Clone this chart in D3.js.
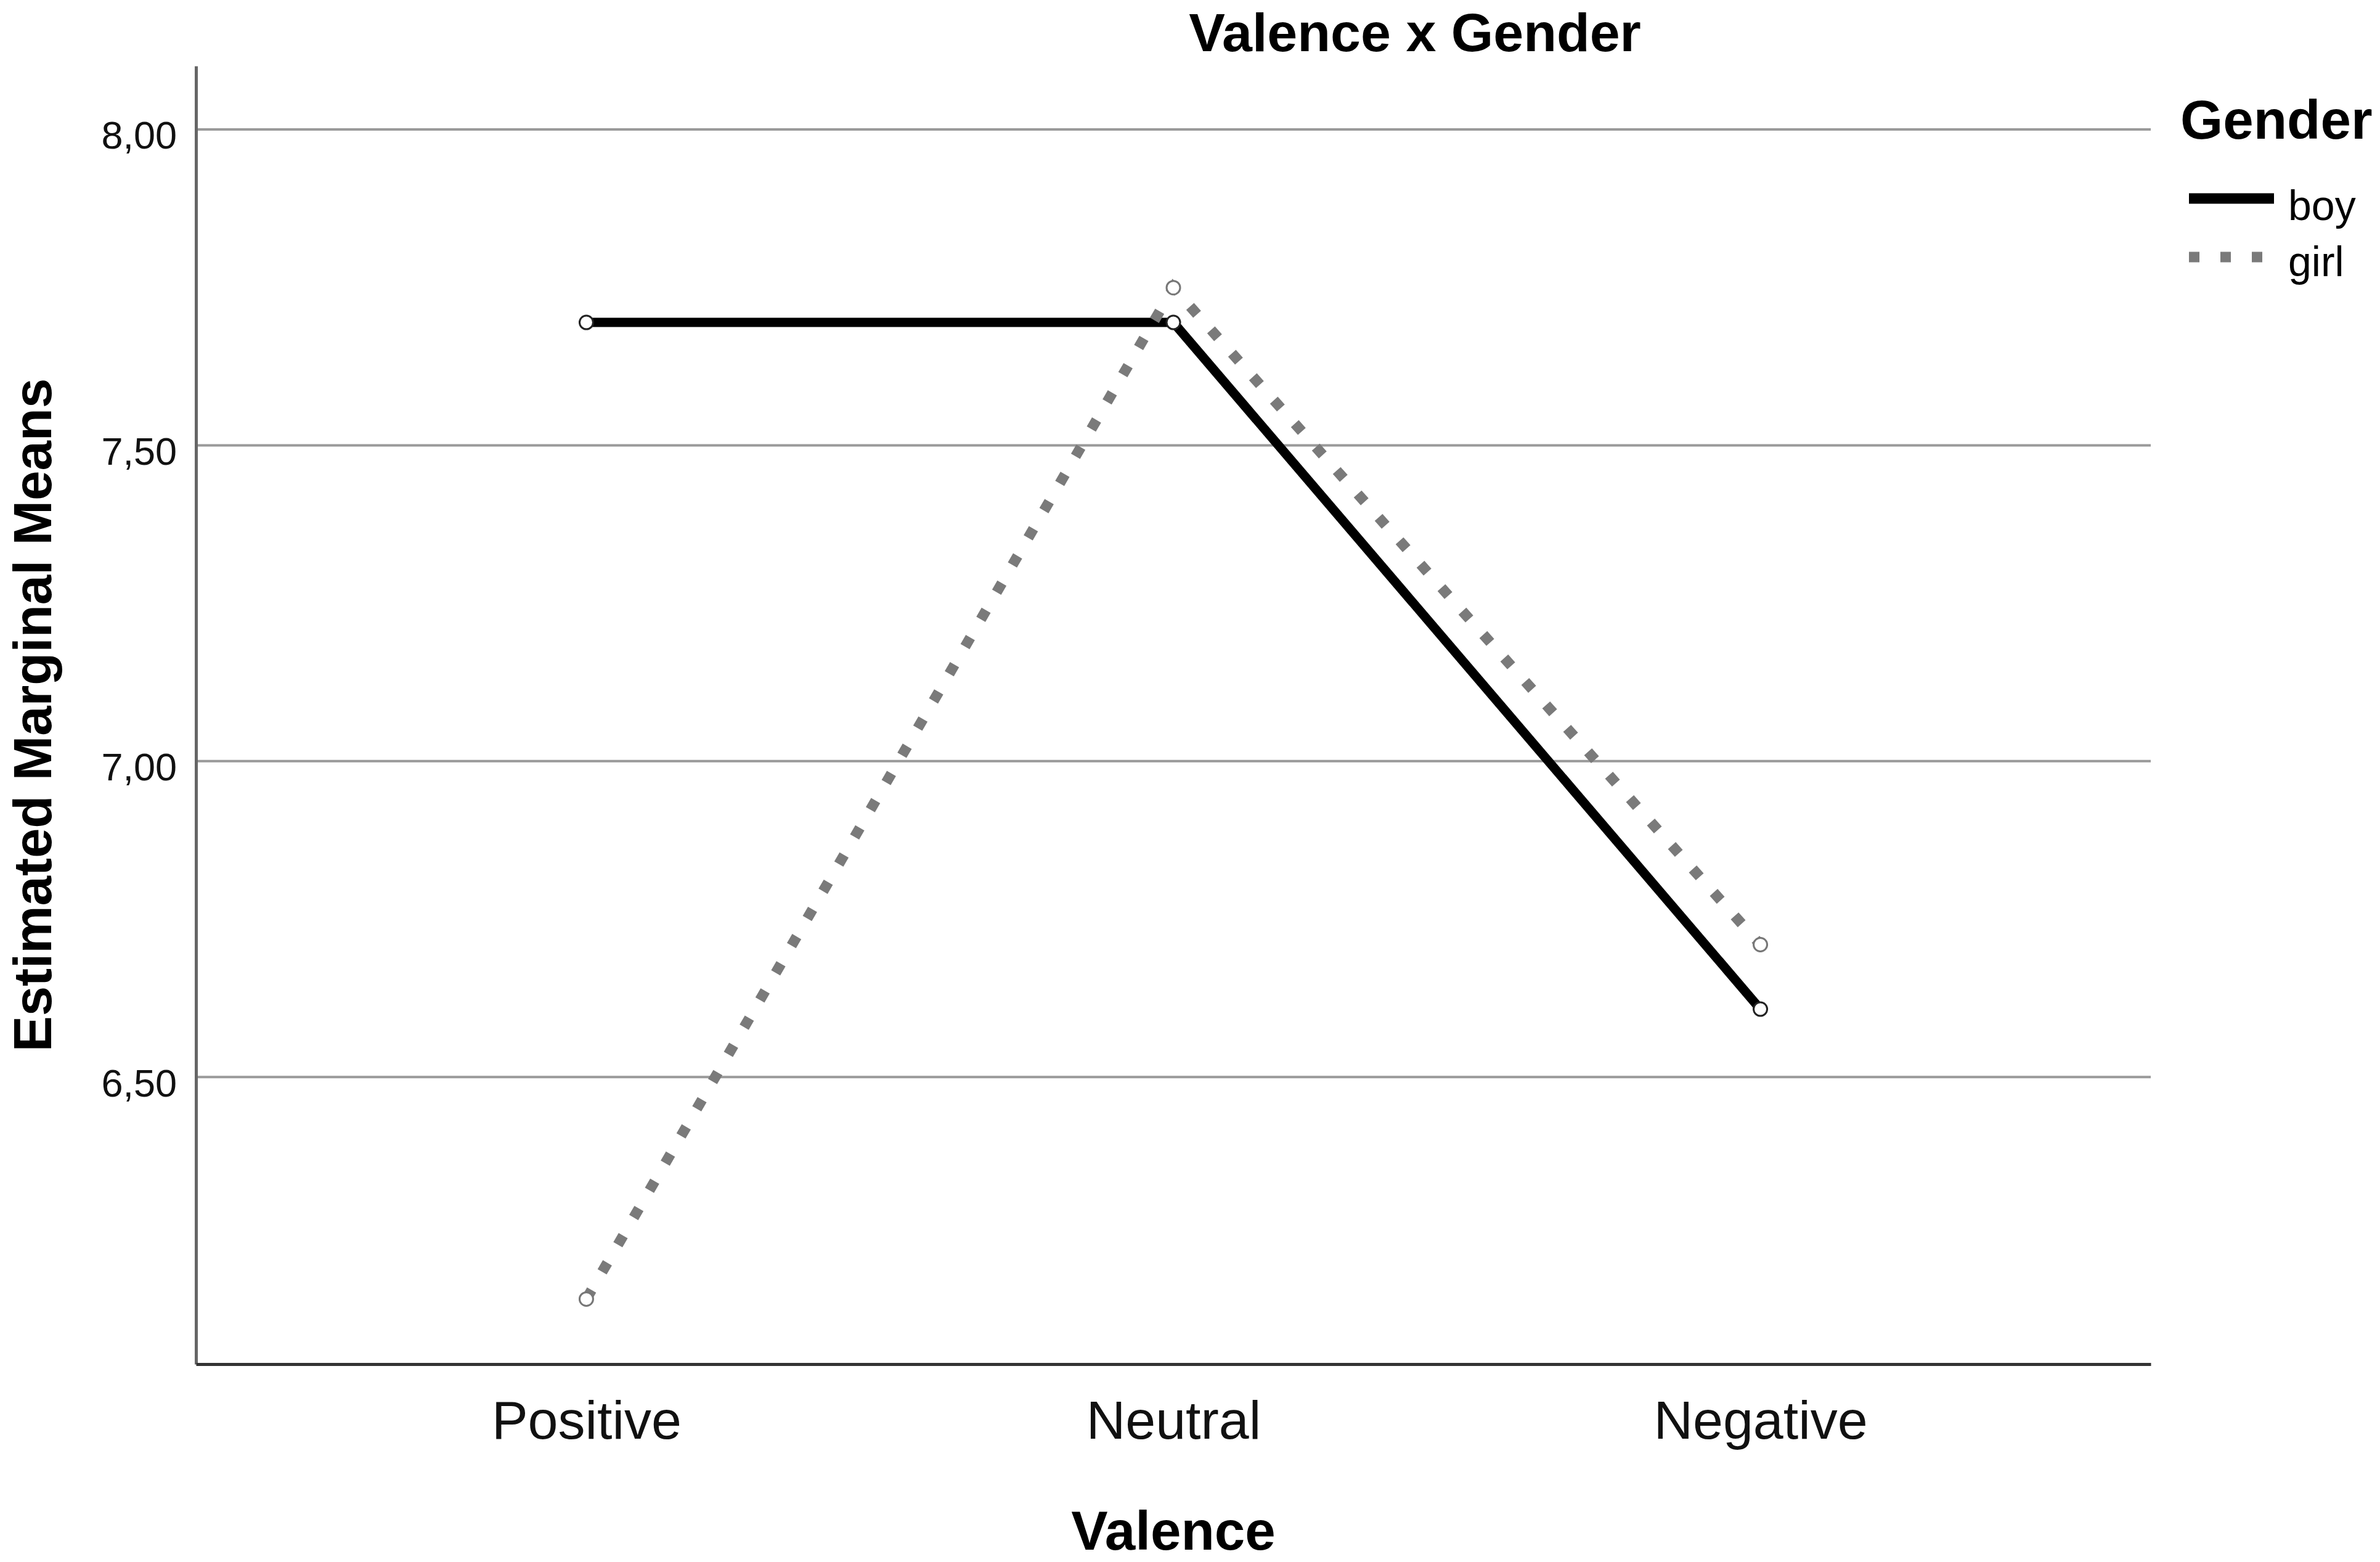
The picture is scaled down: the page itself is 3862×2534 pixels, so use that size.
<!DOCTYPE html>
<html>
<head>
<meta charset="utf-8">
<script src="https://cdn.jsdelivr.net/npm/d3@7"></script>
<style>
  body { margin: 0; background: #fff; }
  svg { display: block; font-family: "Liberation Sans", Arial, sans-serif; }
</style>
</head>
<body>
<div id="chart"></div>
<script>
const categories = ["Positive", "Neutral", "Negative"];
const boyMeans = [7.694, 7.694, 6.607];
const girlMeans = [6.148, 7.749, 6.709];
const yTicks = [6.5, 7, 7.5, 8];
const seriesNames = ["boy", "girl"];

function drawChart() {
  const width = 3862, height = 2534;
  const left = 318, right = 3490, top = 107, bottom = 2213;

  const svg = d3.select("#chart").append("svg")
    .attr("width", width)
    .attr("height", height);

  const x = d3.scalePoint().domain(categories).range([left, right]).padding(0.665);
  const y = d3.scaleLinear().domain([6.045, 8.1]).range([bottom, top]);
  const fmt = d => d3.format(".2f")(d).replace(".", ",");

  // gridlines
  svg.append("g")
    .attr("transform", `translate(${left},0)`)
    .call(d3.axisLeft(y).tickValues(yTicks).tickSize(-(right - left)).tickFormat(""))
    .call(g => g.select(".domain").remove())
    .call(g => g.selectAll("line").attr("stroke", "#9a9a9a").attr("stroke-width", 4));

  // y axis
  svg.append("g")
    .attr("transform", `translate(${left},0)`)
    .call(d3.axisLeft(y).tickValues(yTicks).tickFormat(fmt).tickSize(0).tickSizeOuter(0).tickPadding(31))
    .call(g => g.select(".domain").attr("stroke", "#666").attr("stroke-width", 5))
    .call(g => g.selectAll("text")
      .attr("font-size", 63)
      .attr("dy", "0.5em")
      .attr("fill", "#111")
      .attr("font-family", "Liberation Sans, Arial, sans-serif"));

  // x axis
  svg.append("g")
    .attr("transform", `translate(0,${bottom})`)
    .call(d3.axisBottom(x).tickSize(0).tickSizeOuter(0).tickPadding(59))
    .call(g => g.select(".domain").attr("stroke", "#333").attr("stroke-width", 5))
    .call(g => g.selectAll("text")
      .attr("font-size", 88)
      .attr("fill", "#111")
      .attr("font-family", "Liberation Sans, Arial, sans-serif"));

  const line = d3.line()
    .x((d, i) => x(categories[i]))
    .y(d => y(d));

  // boy
  svg.append("path")
    .datum(boyMeans)
    .attr("d", line)
    .attr("fill", "none")
    .attr("stroke", "#000")
    .attr("stroke-width", 15);

  // girl
  svg.append("path")
    .datum(girlMeans)
    .attr("d", line)
    .attr("fill", "none")
    .attr("stroke", "#7a7a7a")
    .attr("stroke-width", 17)
    .attr("stroke-dasharray", "17 34");

  // markers
  svg.selectAll("circle.boy")
    .data(boyMeans)
    .enter().append("circle")
    .attr("class", "boy")
    .attr("cx", (d, i) => x(categories[i]))
    .attr("cy", d => y(d))
    .attr("r", 11)
    .attr("fill", "#fff")
    .attr("stroke", "#222")
    .attr("stroke-width", 3);

  svg.selectAll("circle.girl")
    .data(girlMeans)
    .enter().append("circle")
    .attr("class", "girl")
    .attr("cx", (d, i) => x(categories[i]))
    .attr("cy", d => y(d))
    .attr("r", 11)
    .attr("fill", "#fff")
    .attr("stroke", "#777")
    .attr("stroke-width", 3);

  // titles
  svg.append("text")
    .attr("x", 2296).attr("y", 83)
    .attr("text-anchor", "middle")
    .attr("font-size", 88).attr("font-weight", "bold")
    .text("Valence x Gender");

  svg.append("text")
    .attr("x", (left + right) / 2).attr("y", 2514)
    .attr("text-anchor", "middle")
    .attr("font-size", 89).attr("font-weight", "bold")
    .text("Valence");

  svg.append("text")
    .attr("transform", `translate(83,${(top + bottom) / 2}) rotate(-90)`)
    .attr("text-anchor", "middle")
    .attr("font-size", 87).attr("font-weight", "bold")
    .text("Estimated Marginal Means");

  // legend
  const legend = svg.append("g");
  legend.append("text")
    .attr("x", 3538).attr("y", 225)
    .attr("font-size", 89).attr("font-weight", "bold")
    .text("Gender");

  const styles = [
    { stroke: "#000", dash: null },
    { stroke: "#7a7a7a", dash: "17 34" }
  ];
  seriesNames.forEach((name, i) => {
    const ly = 322 + i * 95;
    legend.append("line")
      .attr("x1", 3552).attr("x2", i === 0 ? 3690 : 3673)
      .attr("y1", ly).attr("y2", ly)
      .attr("stroke", styles[i].stroke)
      .attr("stroke-width", 17)
      .attr("stroke-dasharray", styles[i].dash);
    legend.append("text")
      .attr("x", 3713).attr("y", ly + (i === 0 ? 35 : 31))
      .attr("font-size", 68)
      .text(name);
  });
}

drawChart();
</script>
</body>
</html>
